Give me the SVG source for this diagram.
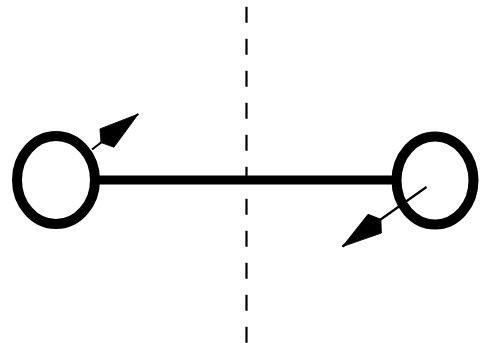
<svg xmlns="http://www.w3.org/2000/svg" width="485" height="343" viewBox="0 0 485 343">
<style>
.ring{fill:none;stroke:#000;stroke-width:10}
.bar{stroke:#000;stroke-width:9;fill:none}
.axis{stroke:#000;stroke-width:2.2;stroke-dasharray:16 16;fill:none}
.vec{stroke:#000;stroke-width:2.2;fill:none;marker-end:url(#kite)}
</style>
<defs>
<marker id="kite" markerUnits="userSpaceOnUse" viewBox="-50 -15 55 30" markerWidth="55" markerHeight="30" refX="0" refY="0" orient="auto">
<path d="M0,0 L-39.5,-11.5 L-47,0 L-39.5,11.5 Z" fill="#000" stroke="#000" stroke-width="0.8" stroke-linejoin="miter"/>
</marker>
</defs>
<rect width="485" height="343" fill="#fff"/>
<g id="connectors">
<line class="axis" x1="246.5" y1="6.7" x2="246.5" y2="343"/>
<line class="bar" x1="96" y1="180" x2="396" y2="180"/>
<line class="vec" x1="92" y1="149.5" x2="138.3" y2="114"/>
<line class="vec" x1="426.5" y1="187" x2="342.5" y2="246.5"/>
</g>
<g id="node-left">
<ellipse class="ring" cx="56" cy="180" rx="39" ry="44"/>
</g>
<g id="node-right">
<ellipse class="ring" cx="435" cy="180.5" rx="38.5" ry="44"/>
</g>
</svg>
